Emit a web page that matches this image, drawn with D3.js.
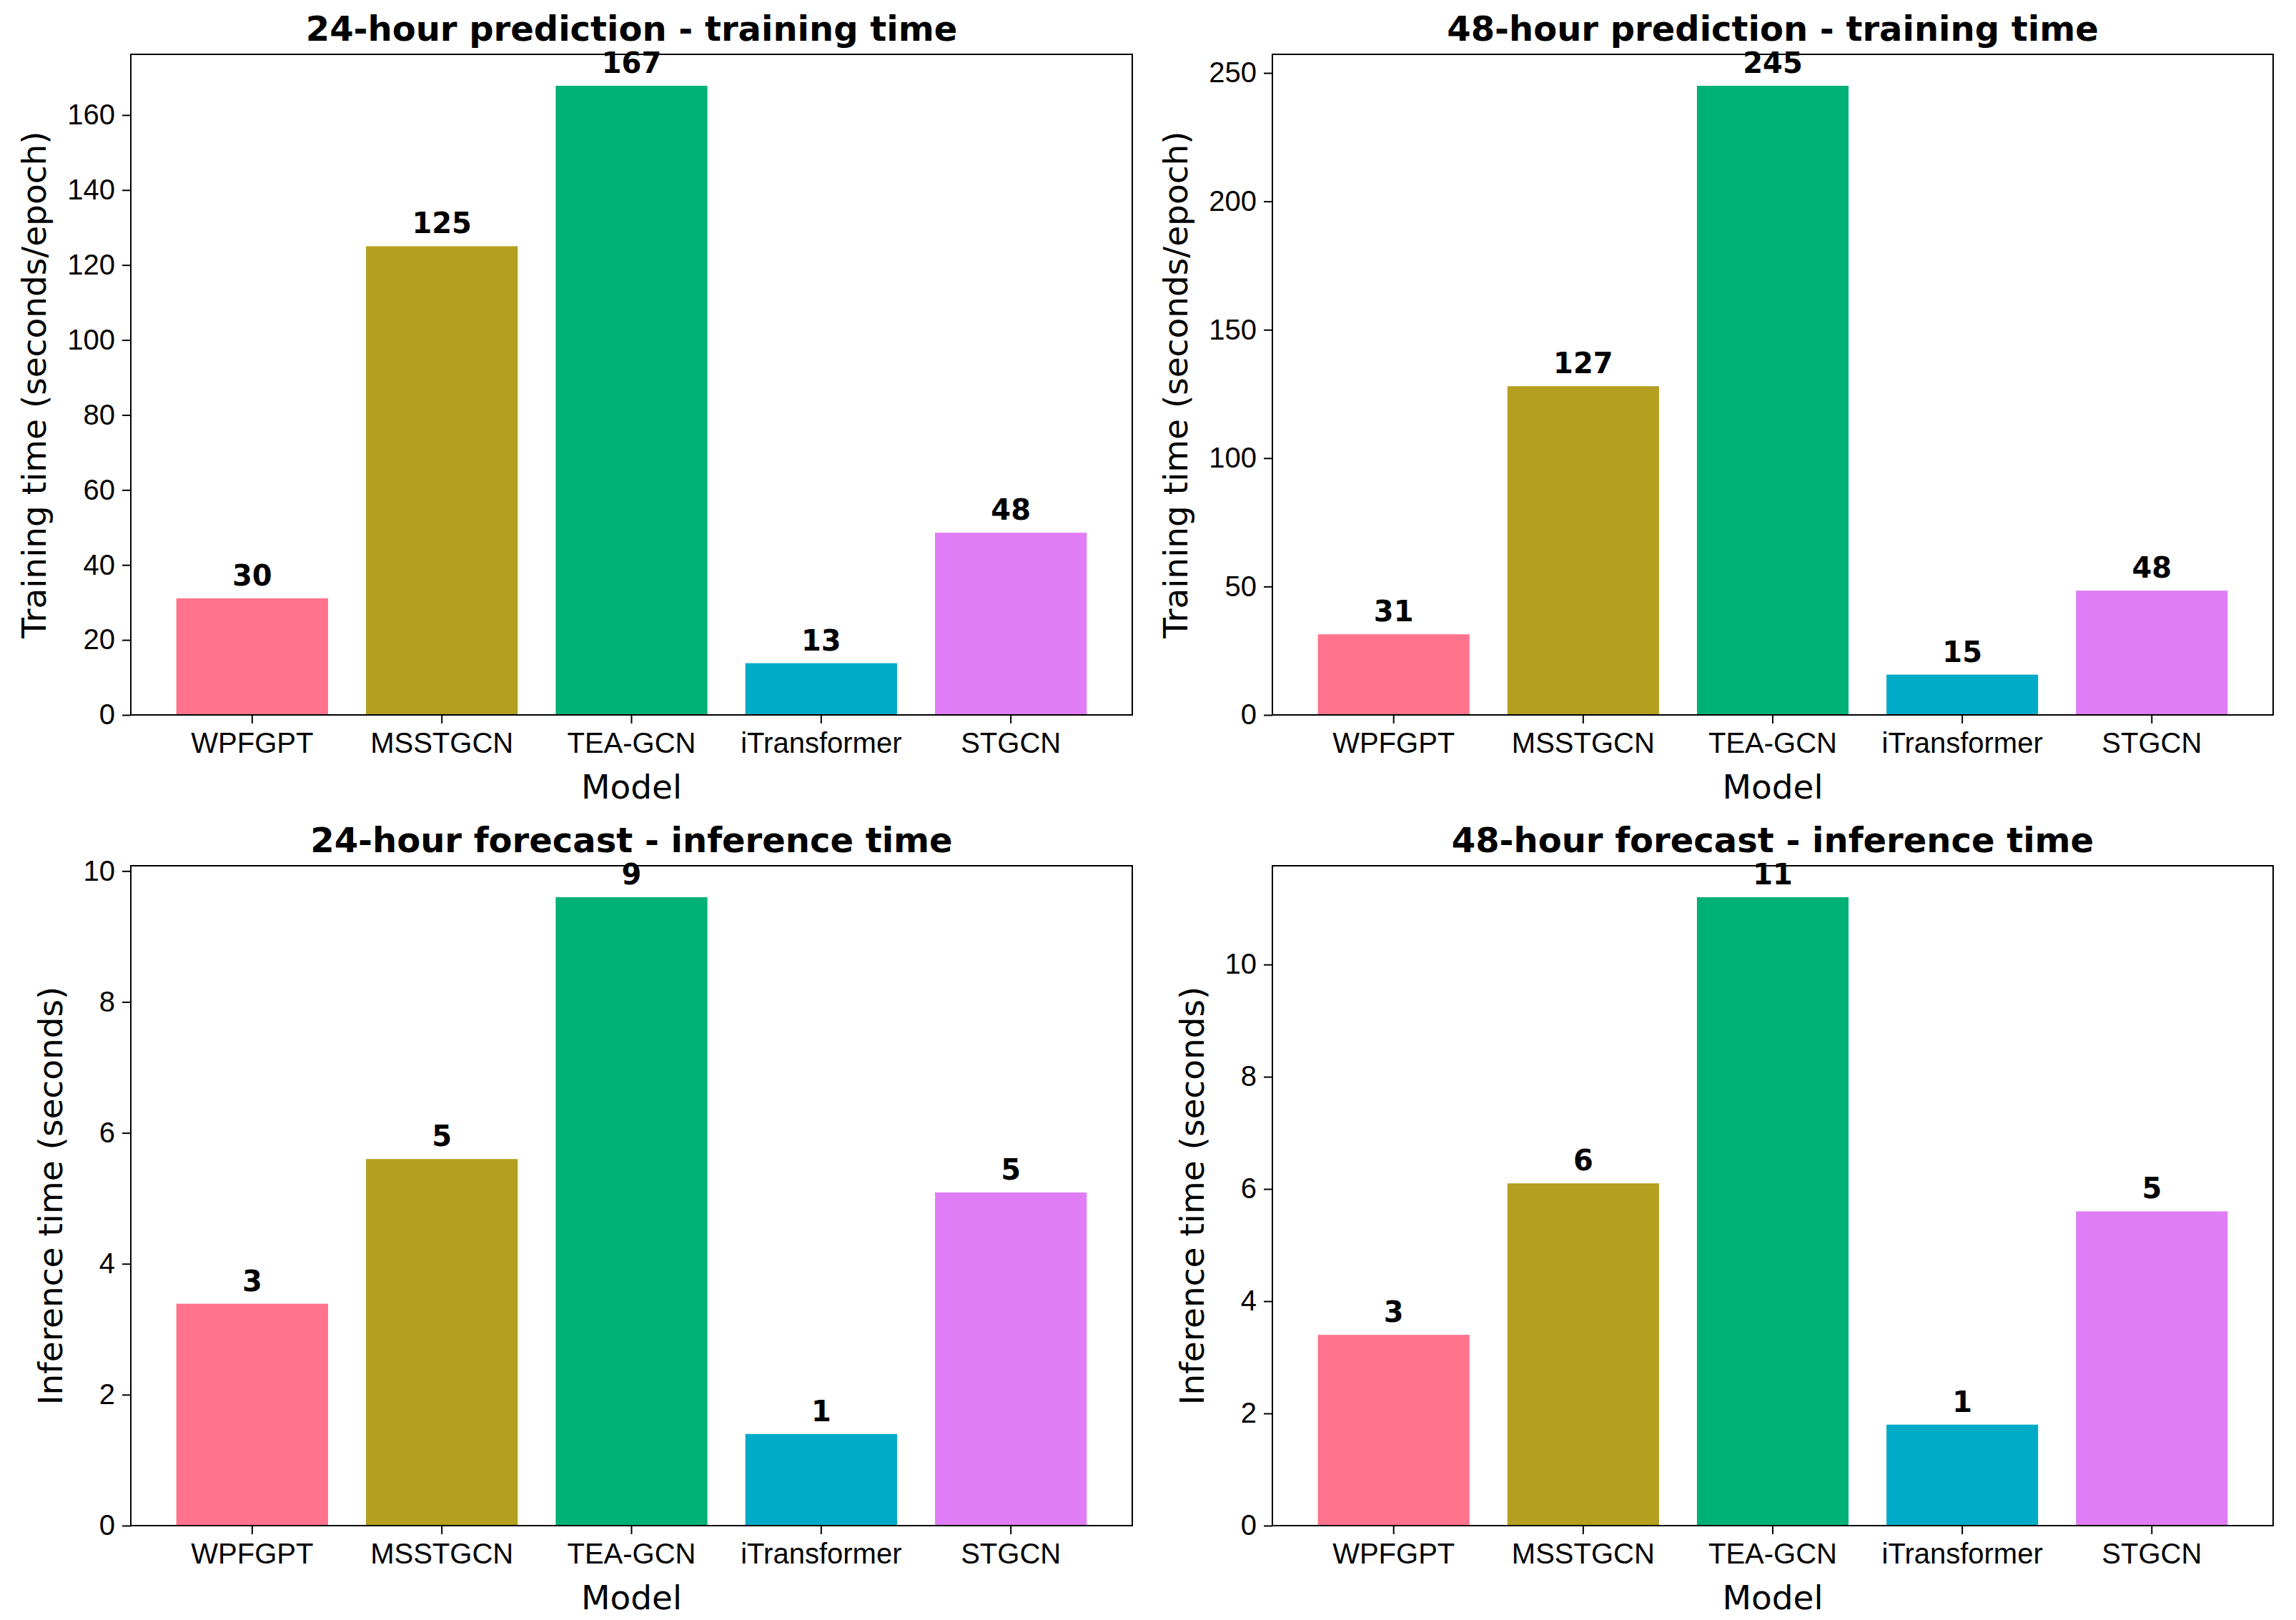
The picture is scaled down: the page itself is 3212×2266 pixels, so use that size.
<!DOCTYPE html>
<html>
<head>
<meta charset="utf-8">
<script src="https://cdn.jsdelivr.net/npm/d3@7"></script>
<style>
  body { margin: 0; background: #fff; }
  svg { display: block; font-family: "DejaVu Sans", sans-serif; }
  .tick text { font-size: 40px; fill: #000; }
  .tick line { stroke: #000; stroke-width: 2; }
</style>
</head>
<body>
<div id="chart"></div>
<script>
var models = ["WPFGPT", "MSSTGCN", "TEA-GCN", "iTransformer", "STGCN"];
var colors = ["#ff738c", "#b49f1f", "#00b176", "#00abc8", "#e07df6"];

var train24 = [31.1, 125.0, 167.8, 13.8, 48.6];
var train24Labels = [30, 125, 167, 13, 48];
var train48 = [31.4, 128.0, 245.0, 15.7, 48.4];
var train48Labels = [31, 127, 245, 15, 48];
var infer24 = [3.39, 5.6, 9.6, 1.4, 5.09];
var infer24Labels = [3, 5, 9, 1, 5];
var infer48 = [3.4, 6.1, 11.2, 1.8, 5.6];
var infer48Labels = [3, 6, 11, 1, 5];

var ticksTrain24 = [0, 20, 40, 60, 80, 100, 120, 140, 160];
var ticksTrain48 = [0, 50, 100, 150, 200, 250];
var ticksInfer = [0, 2, 4, 6, 8, 10];

var W = 3212, H = 2266;
var svg = d3.select("#chart").append("svg")
  .attr("width", W)
  .attr("height", H);

var panels = [
  {title: "24-hour prediction - training time", ylab: "Training time (seconds/epoch)",
   vals: train24, labels: train24Labels, ticks: ticksTrain24, x0: 183, x1: 1584, y0: 76, y1: 1000},
  {title: "48-hour prediction - training time", ylab: "Training time (seconds/epoch)",
   vals: train48, labels: train48Labels, ticks: ticksTrain48, x0: 1780, x1: 3180, y0: 76, y1: 1000},
  {title: "24-hour forecast - inference time", ylab: "Inference time (seconds)",
   vals: infer24, labels: infer24Labels, ticks: ticksInfer, x0: 183, x1: 1584, y0: 1211, y1: 2134},
  {title: "48-hour forecast - inference time", ylab: "Inference time (seconds)",
   vals: infer48, labels: infer48Labels, ticks: ticksInfer, x0: 1780, x1: 3180, y0: 1211, y1: 2134}
];

panels.forEach(function(p){ drawPanel(p); });

function drawPanel(p){
  var w = p.x1 - p.x0, h = p.y1 - p.y0;
  var g = svg.append("g").attr("transform", "translate(" + p.x0 + "," + p.y0 + ")");

  var x = d3.scaleBand().domain(models).range([0, w])
    .paddingInner(0.2).paddingOuter(0.24);
  var y = d3.scaleLinear().domain([0, d3.max(p.vals) * 1.05]).range([h, 0]);

  g.selectAll("rect.bar").data(p.vals).enter().append("rect")
    .attr("class", "bar")
    .attr("x", (d, i) => x(models[i]))
    .attr("width", x.bandwidth())
    .attr("y", d => y(d))
    .attr("height", d => h - y(d))
    .attr("fill", (d, i) => colors[i]);

  g.selectAll("text.val").data(p.vals).enter().append("text")
    .attr("class", "val")
    .attr("x", (d, i) => x(models[i]) + x.bandwidth() / 2)
    .attr("y", d => y(d) - 18)
    .attr("text-anchor", "middle")
    .attr("font-size", 40)
    .attr("font-weight", "bold")
    .text((d, i) => p.labels[i]);

  var yAxis = g.append("g")
    .call(d3.axisLeft(y).tickValues(p.ticks).tickSize(12).tickPadding(10).tickSizeOuter(0));
  yAxis.select(".domain").remove();

  var xAxis = g.append("g")
    .attr("transform", "translate(0," + h + ")")
    .call(d3.axisBottom(x).tickSize(12).tickPadding(10).tickSizeOuter(0));
  xAxis.select(".domain").remove();
  xAxis.selectAll(".tick text").attr("dy", null).attr("y", 53);

  g.append("rect")
    .attr("width", w)
    .attr("height", h)
    .attr("fill", "none")
    .attr("stroke", "#000")
    .attr("stroke-width", 2);

  // y label sits just left of the widest tick label
  var left = 0;
  yAxis.selectAll(".tick text").each(function(){
    var b = this.getBBox();
    if (b.x < left) left = b.x;
  });

  g.append("text")
    .attr("transform", "translate(" + (left - 30) + "," + (h / 2) + ") rotate(-90)")
    .attr("text-anchor", "middle")
    .attr("font-size", 47)
    .text(p.ylab);

  g.append("text")
    .attr("x", w / 2)
    .attr("y", h + 117)
    .attr("text-anchor", "middle")
    .attr("font-size", 47)
    .text("Model");

  g.append("text")
    .attr("x", w / 2)
    .attr("y", -19)
    .attr("text-anchor", "middle")
    .attr("font-size", 48)
    .attr("font-weight", "bold")
    .text(p.title);
}
</script>
</body>
</html>
